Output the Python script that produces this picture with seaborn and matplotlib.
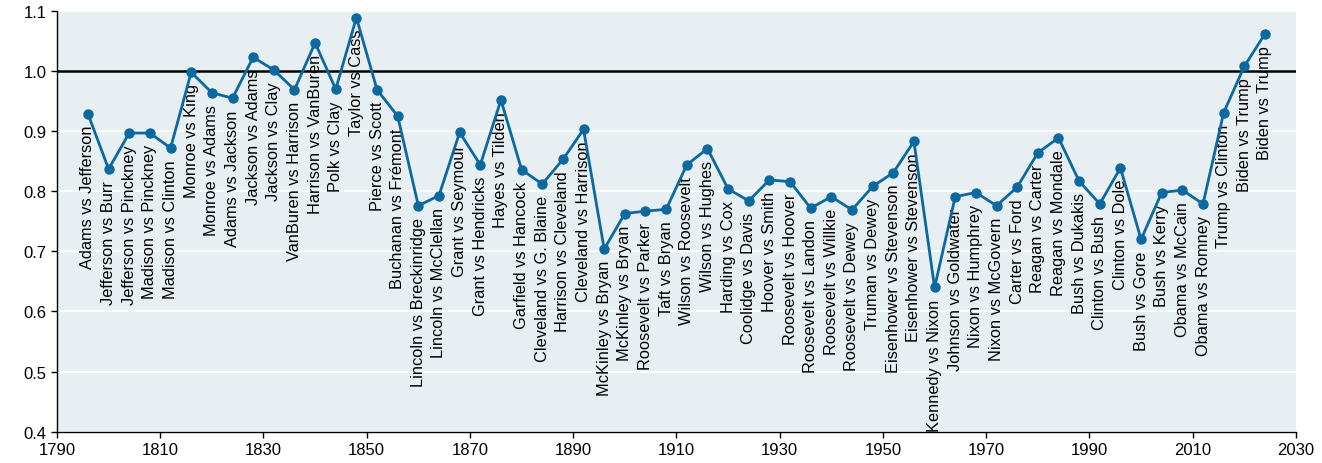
import matplotlib
matplotlib.use("Agg")
import matplotlib.pyplot as plt
import seaborn as sns
import pandas as pd

years = list(range(1796, 2025, 4))
ratios = [0.929, 0.837, 0.897, 0.897, 0.872, 0.998, 0.964, 0.955, 1.023, 1.002,
          0.969, 1.047, 0.970, 1.089, 0.969, 0.925, 0.776, 0.793, 0.898, 0.844,
          0.952, 0.836, 0.812, 0.853, 0.903, 0.704, 0.763, 0.767, 0.770, 0.844,
          0.871, 0.804, 0.784, 0.819, 0.816, 0.772, 0.791, 0.769, 0.808, 0.831,
          0.883, 0.640, 0.791, 0.798, 0.776, 0.807, 0.864, 0.889, 0.817, 0.779,
          0.839, 0.720, 0.798, 0.802, 0.779, 0.931, 1.008, 1.062]
matchups = ["Adams vs Jefferson", "Jefferson vs Burr", "Jefferson vs Pinckney",
            "Madison vs Pinckney", "Madison vs Clinton", "Monroe vs King",
            "Monroe vs Adams", "Adams vs Jackson", "Jackson vs Adams",
            "Jackson vs Clay", "VanBuren vs Harrison", "Harrison vs VanBuren",
            "Polk vs Clay", "Taylor vs Cass", "Pierce vs Scott",
            "Buchanan vs Frémont", "Lincoln vs Breckinridge", "Lincoln vs McClellan",
            "Grant vs Seymour", "Grant vs Hendricks", "Hayes vs Tilden",
            "Garfield vs Hancock", "Cleveland vs G. Blaine", "Harrison vs Cleveland",
            "Cleveland vs Harrison", "McKinley vs Bryan", "McKinley vs Bryan",
            "Roosevelt vs Parker", "Taft vs Bryan", "Wilson vs Roosevelt",
            "Wilson vs Hughes", "Harding vs Cox", "Coolidge vs Davis",
            "Hoover vs Smith", "Roosevelt vs Hoover", "Roosevelt vs Landon",
            "Roosevelt vs Willkie", "Roosevelt vs Dewey", "Truman vs Dewey",
            "Eisenhower vs Stevenson", "Eisenhower vs Stevenson", "Kennedy vs Nixon",
            "Johnson vs Goldwater", "Nixon vs Humphrey", "Nixon vs McGovern",
            "Carter vs Ford", "Reagan vs Carter", "Reagan vs Mondale",
            "Bush vs Dukakis", "Clinton vs Bush", "Clinton vs Dole",
            "Bush vs Gore", "Bush vs Kerry", "Obama vs McCain",
            "Obama vs Romney", "Trump vs Clinton", "Biden vs Trump",
            "Biden vs Trump"]

df = pd.DataFrame({"year": years, "ratio": ratios, "label": matchups})

sns.set_style("ticks", {"axes.facecolor": "#e7eff2", "axes.edgecolor": "black",
                        "grid.color": "white"})
plt.rcParams["font.family"] = ["Liberation Sans", "DejaVu Sans"]

fig = plt.figure(figsize=(13.22, 4.64), dpi=100)
ax = fig.add_axes([0.0431, 0.0675, 0.9372, 0.9066])

ax.yaxis.grid(True, color="white", linewidth=1.2, zorder=0)
ax.set_axisbelow(True)
ax.axhline(1.0, color="black", linewidth=1.8, zorder=2)

sns.lineplot(data=df, x="year", y="ratio", ax=ax, color="#0b69a0", linewidth=2,
             marker="o", markersize=7.5, markeredgewidth=0, zorder=4)

for _, r in df.iterrows():
    ax.annotate(r["label"], (r["year"], r["ratio"]), xytext=(0, -8),
                textcoords="offset points", rotation=90, ha="center", va="top",
                fontsize=11.8, color="black", zorder=3)

ax.set_xlim(1790, 2030)
ax.set_ylim(0.4, 1.1)
ax.set_xticks(range(1790, 2031, 20))
ax.set_yticks([0.4, 0.5, 0.6, 0.7, 0.8, 0.9, 1.0, 1.1])
ax.set_yticklabels([f"{v:.1f}" for v in [0.4, 0.5, 0.6, 0.7, 0.8, 0.9, 1.0, 1.1]])
ax.tick_params(labelsize=12, length=4, width=1, colors="black")
ax.set_xlabel("")
ax.set_ylabel("")
for side in ["top", "right"]:
    ax.spines[side].set_visible(False)
ax.spines["left"].set_linewidth(1)
ax.spines["bottom"].set_linewidth(1)

fig.savefig("out.png", dpi=100)
